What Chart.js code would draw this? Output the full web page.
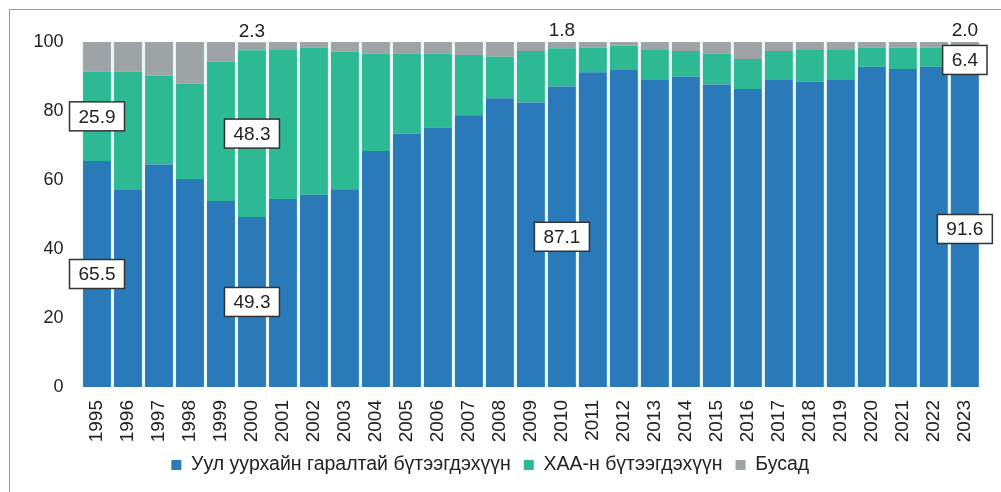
<!doctype html>
<html>

<head>
    <meta charset="utf-8" />
    <title>Exports structure</title>
    <script src="https://cdn.jsdelivr.net/npm/chart.js@4/dist/chart.umd.min.js"></script>
    <style>
        body { margin: 0; background: #fff; }
        #wrap { position: relative; width: 1001px; height: 492px; }
        #frame { position: absolute; left: 9px; top: 9px; right: -5px; bottom: -5px;
                 border-left: 1.5px solid #9a9a9a; border-top: 1.5px solid #9a9a9a; }
    </style>
</head>

<body>
    <div id="wrap">
        <div id="frame"></div>
        <canvas id="exportChart"></canvas>
    </div>

<script>
    var years = ["1995", "1996", "1997", "1998", "1999", "2000", "2001", "2002", "2003", "2004",
        "2005", "2006", "2007", "2008", "2009", "2010", "2011", "2012", "2013", "2014",
        "2015", "2016", "2017", "2018", "2019", "2020", "2021", "2022", "2023"];

    // Уул уурхайн гаралтай бүтээгдэхүүн
    var mining = [65.5, 57.1, 64.5, 60.3, 53.9, 49.3, 54.5, 55.7, 57.3, 68.4,
        73.5, 75.2, 78.8, 83.7, 82.5, 87.1, 91.2, 91.9, 89.0, 89.9,
        87.7, 86.4, 89.0, 88.5, 89.0, 92.8, 92.2, 92.8, 91.6];
    // ХАА-н бүтээгдэхүүн
    var agri = [25.9, 34.3, 25.7, 27.7, 40.4, 48.3, 43.2, 42.7, 39.9, 28.3,
        23.2, 21.5, 17.4, 12.0, 14.9, 11.1, 7.2, 7.0, 8.7, 7.5,
        9.0, 8.7, 8.4, 9.2, 8.7, 5.6, 6.2, 5.6, 6.4];
    // Бусад
    var other = [8.6, 8.6, 9.8, 12.0, 5.7, 2.3, 2.3, 1.6, 2.8, 3.3,
        3.3, 3.3, 3.8, 4.3, 2.6, 1.8, 1.6, 1.1, 2.3, 2.6,
        3.3, 4.9, 2.6, 2.3, 2.3, 1.6, 1.6, 1.6, 2.0];

    var yTicks = [0, 20, 40, 60, 80, 100];

    // which values get a boxed label, and which get a plain label above the bar
    var boxedLabels = [[0, 0], [1, 0], [0, 5], [1, 5], [0, 15], [0, 28], [1, 28]];
    var topLabels = [[2, 5], [2, 15], [2, 28]];

    var FONT = "'Liberation Sans', Arial, sans-serif";

    var valueLabels = {
        id: 'valueLabels',
        afterDatasetsDraw: function (chart) {
            var ctx = chart.ctx;
            ctx.save();
            ctx.font = "19px " + FONT;
            ctx.textAlign = 'center';
            ctx.textBaseline = 'middle';
            boxedLabels.forEach(function (l) {
                var el = chart.getDatasetMeta(l[0]).data[l[1]];
                var txt = chart.data.datasets[l[0]].data[l[1]].toFixed(1);
                var x = el.x, y = (el.y + el.base) / 2;
                var w = ctx.measureText(txt).width + 18, h = 29;
                ctx.fillStyle = '#fff';
                ctx.fillRect(x - w / 2, y - h / 2, w, h);
                ctx.strokeStyle = '#333';
                ctx.lineWidth = 1.5;
                ctx.strokeRect(x - w / 2, y - h / 2, w, h);
                ctx.fillStyle = '#222';
                ctx.fillText(txt, x, y + 1);
            });
            topLabels.forEach(function (l) {
                var el = chart.getDatasetMeta(l[0]).data[l[1]];
                var txt = chart.data.datasets[l[0]].data[l[1]].toFixed(1);
                ctx.fillStyle = '#222';
                ctx.fillText(txt, el.x, el.y - 11);
            });
            ctx.restore();
        }
    };

    var areaBg = {
        id: 'areaBg',
        beforeDatasetsDraw: function (chart) {
            var a = chart.chartArea;
            chart.ctx.save();
            chart.ctx.fillStyle = '#e9f7f5';
            chart.ctx.fillRect(a.left, a.top, a.right - a.left, a.bottom - a.top);
            chart.ctx.restore();
        }
    };

    var ctx = document.getElementById('exportChart').getContext('2d');
    var myChart = new Chart(ctx, {
        type: 'bar',
        data: {
            labels: years,
            datasets: [{
                label: "Уул уурхайн гаралтай бүтээгдэхүүн",
                data: mining,
                backgroundColor: "#2a7aba",
            }, {
                label: "ХАА-н бүтээгдэхүүн",
                data: agri,
                backgroundColor: "#2cb994",
            }, {
                label: "Бусад",
                data: other,
                backgroundColor: "#9ea3a6",
            }]
        },
        options: {
            responsive: true,
            maintainAspectRatio: false,
            animation: false,
            barPercentage: 0.9,
            categoryPercentage: 1.0,
            layout: { padding: { left: 0, right: 20.5, top: 42, bottom: 7.25 } },
            scales: {
                x: {
                    stacked: true,
                    grid: { display: false, drawTicks: false },
                    border: { display: false },
                    ticks: {
                        autoSkip: false, minRotation: 90, maxRotation: 90, padding: 13,
                        color: '#222', font: { family: FONT, size: 19 }
                    },
                    afterFit: function (scale) { scale.height = 55.25; }
                },
                y: {
                    stacked: true,
                    min: 0, max: 100,
                    afterBuildTicks: function (scale) {
                        scale.ticks = yTicks.map(function (v) { return { value: v }; });
                    },
                    grid: { display: false, drawTicks: false },
                    border: { display: false },
                    ticks: { padding: 18, color: '#222', font: { family: FONT, size: 18 } },
                    afterFit: function (scale) { scale.width = 81.5; }
                }
            },
            plugins: {
                legend: {
                    position: 'bottom',
                    labels: {
                        boxWidth: 10, boxHeight: 10, padding: 13,
                        color: '#222', font: { family: FONT, size: 19.5 }
                    }
                },
                tooltip: { enabled: false }
            }
        },
        plugins: [areaBg, valueLabels]
    });
</script>
</body>

</html>
